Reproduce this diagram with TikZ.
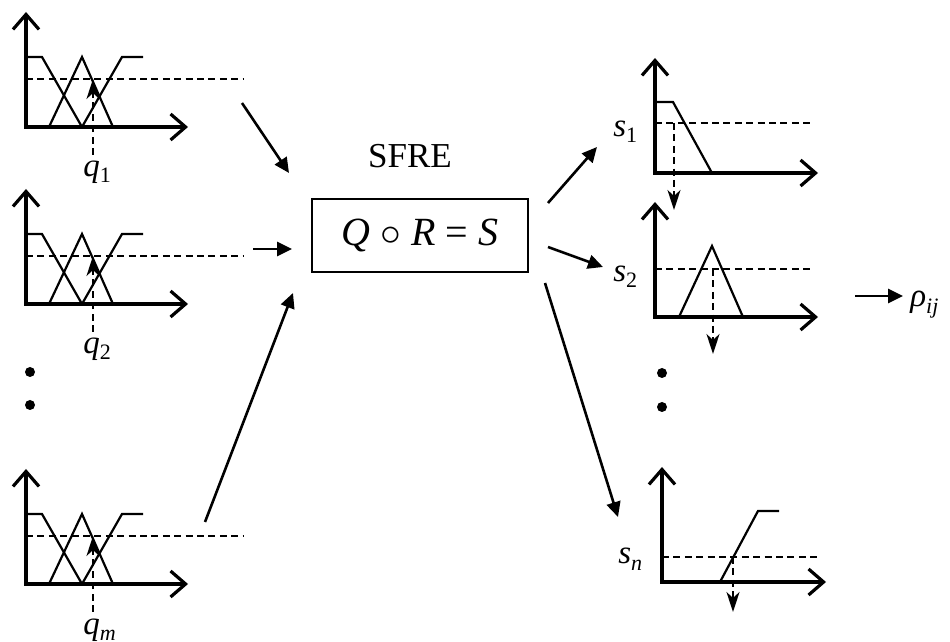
\documentclass[tikz,border=0pt]{standalone}
\usepackage{fontspec}
\setmainfont{Liberation Serif}
\usetikzlibrary{arrows.meta}

\newcommand{\lowsub}[1]{\raisebox{-3pt}{\fontsize{11}{12}\selectfont #1}}

\begin{document}
\begin{tikzpicture}[
    x=0.5pt, y=-0.5pt,
    axisline/.style={line width=1.6pt, {Straight Barb[length=7.5pt,width=13pt]}-{Straight Barb[length=7.5pt,width=13pt]}},
    mfline/.style={line width=1.1pt},
    cutline/.style={line width=0.8pt, dash pattern=on 3.5pt off 2.2pt},
    cutarrow/.style={line width=1.1pt, dash pattern=on 3.5pt off 2.2pt, -{Stealth[length=10pt,width=6.5pt,inset=3pt]}},
    conn/.style={line width=1.3pt, -{Triangle[length=7.5pt,width=7pt]}},
    lbl/.style={font=\fontsize{16.5}{19}\selectfont, inner sep=0pt, anchor=base west},
    bigdot/.style={circle, fill, inner sep=0pt, minimum size=5pt}
]
    \useasboundingbox (0,0) rectangle (950,642);

    % input memberships
    \foreach \oy/\nm/\sb in {127/q1/1, 304/q2/2, 584/qm/\textit{m}} {
        \begin{scope}[shift={(26,\oy)}]
            \draw[axisline] (0,-115) -- (0,0) -- (162,0);
            \draw[mfline] (0,-70) -- (16,-70) -- (56,0);
            \draw[mfline] (23,0) -- (56,-70) -- (87,0);
            \draw[mfline] (56,0) -- (96,-70) -- (117,-70);
            \draw[cutline] (0,-48) -- (217,-48);
            \draw[cutarrow] (67,28) -- (67,-48);
            \node[lbl] (\nm) at (57,50) {\textit{q}\lowsub{\sb}};
        \end{scope}
    }
    \node[bigdot] (ldot1) at (30,372) {};
    \node[bigdot] (ldot2) at (30,405) {};

    % relation equation
    \node[font=\fontsize{17.5}{21}\selectfont, anchor=base] (sfre) at (410,168) {SFRE};
    \node[draw, line width=1pt, minimum width=108pt, minimum height=36.5pt,
          font=\fontsize{20}{24}\selectfont] (eq) at (420,236)
          {\textit{Q} $\circ$ \textit{R} = \textit{S}};

    % output memberships
    \begin{scope}[shift={(655,173)}]
        \draw[axisline] (0,-115) -- (0,0) -- (163,0);
        \draw[mfline] (0,-71) -- (18,-71) -- (57,0);
        \draw[cutline] (0,-50) -- (158,-50);
        \draw[cutarrow] (19,-50) -- (19,37);
        \node[lbl] (s1) at (-42,-36) {\textit{s}\lowsub{1}};
    \end{scope}
    \begin{scope}[shift={(655,317)}]
        \draw[axisline] (0,-115) -- (0,0) -- (163,0);
        \draw[mfline] (24,0) -- (57,-71) -- (88,0);
        \draw[cutline] (0,-48) -- (158,-48);
        \draw[cutarrow] (58,-48) -- (58,37);
        \node[lbl] (s2) at (-42,-35) {\textit{s}\lowsub{2}};
    \end{scope}
    \begin{scope}[shift={(662,582)}]
        \draw[axisline] (0,-115) -- (0,0) -- (164,0);
        \draw[mfline] (58,0) -- (96,-71) -- (117,-71);
        \draw[cutline] (0,-25) -- (157,-25);
        \draw[cutarrow] (71,-25) -- (71,30);
        \node[lbl] (sn) at (-44,-18) {\textit{s}\lowsub{\textit{n}}};
    \end{scope}
    \node[bigdot] (rdot1) at (662,373) {};
    \node[bigdot] (rdot2) at (662,407) {};
    \node[lbl] (rho) at (910,307) {\textit{ρ}\lowsub{\textit{ij}}};

    % connectors
    \coordinate (a1) at (242,103);
    \coordinate (b1) at (289,173);
    \coordinate (a2) at (253,249);
    \coordinate (b2) at (292,249);
    \coordinate (a3) at (205,522);
    \coordinate (b3) at (293,293);
    \coordinate (c1) at (548,203);
    \coordinate (d1) at (597,147);
    \coordinate (c2) at (548,247);
    \coordinate (d2) at (603,267);
    \coordinate (c3) at (545,283);
    \coordinate (d3) at (618,517);
    \coordinate (e) at (855,296);
    \coordinate (f) at (903,296);

    \draw[conn] (a1) -- (b1);
    \draw[conn] (a2) -- (b2);
    \draw[conn] (a3) -- (b3);
    \draw[conn] (c1) -- (d1);
    \draw[conn] (c2) -- (d2);
    \draw[conn] (c3) -- (d3);
    \draw[conn] (e) -- (f);
\end{tikzpicture}
\end{document}
